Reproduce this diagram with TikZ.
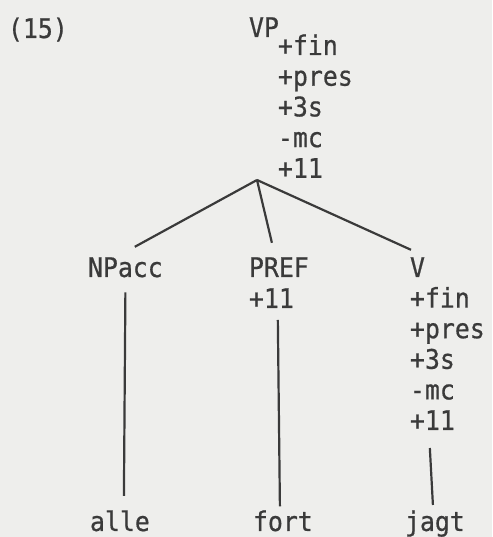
\documentclass[tikz,border=0pt]{standalone}
\usepackage{fontspec}
\usepackage{xcolor}
\newfontfamily\typer[FakeStretch=0.92, FakeBold=0.6]{DejaVu Sans Mono}
\definecolor{paper}{RGB}{238,238,236}
\definecolor{ink}{RGB}{58,58,58}

\begin{document}
\begin{tikzpicture}[x=1pt, y=1pt,
    word/.style={anchor=base west, inner sep=0pt, outer sep=0pt, text=ink,
      font=\typer\fontsize{27}{30}\selectfont},
    branch/.style={draw=ink, line width=2.2pt}]
  \fill[paper] (0,0) rectangle (492,537);
  \useasboundingbox (0,0) rectangle (492,537);

  % top label and mother node
  \node[word] (num) at (8,499) {(15)};
  \node[word] (vp) at (249,500) {VP};
  \foreach \f [count=\i] in {+fin,+pres,+3s,-mc,+11}
    \node[word] (vp\i) at (278,{482-30.7*(\i-1)}) {\f};
  \coordinate (apex) at (257,357);

  % daughters
  \node[word] (npacc) at (88,260) {NPacc};
  \node[word] (pref) at (249,260) {PREF};
  \node[word] (pref1) at (249,229) {+11};
  \node[word] (v) at (410,260) {V};
  \foreach \f [count=\i] in {+fin,+pres,+3s,-mc,+11}
    \node[word] (v\i) at (410,{260-30.6*\i}) {\f};

  % words
  \node[word] (alle) at (90,6) {alle};
  \node[word] (fort) at (253,6) {fort};
  \node[word] (jagt) at (405,6) {jagt};

  \draw[branch] (apex) -- ([shift={(9.4,10.5)}]npacc.north);
  \draw[branch] (apex) -- ([shift={(-7,14.5)}]pref.north);
  \draw[branch] (apex) -- ([shift={(-6.5,7.5)}]v.north);

  \draw[branch] ([yshift=-15pt]npacc.south) -- ([shift={(4,14.5)}]alle.north);
  \draw[branch] ([shift={(6.4,-12)}]pref1.south) -- ([shift={(-3,4)}]fort.north);
  \draw[branch] ([shift={(-2.6,-18)}]v5.south) -- ([shift={(-2,5.5)}]jagt.north);
\end{tikzpicture}
\end{document}
